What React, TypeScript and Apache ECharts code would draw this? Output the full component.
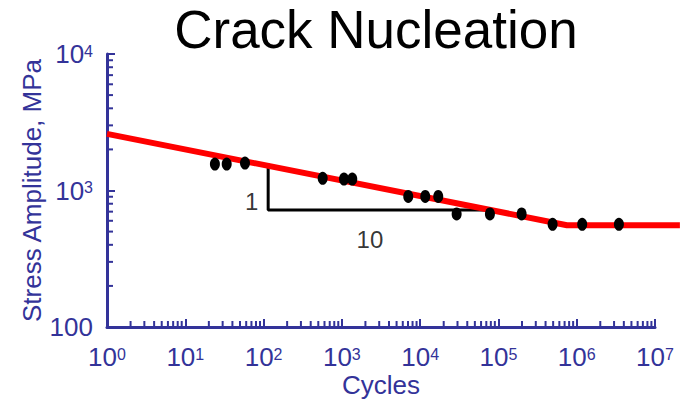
import React, { useEffect, useRef } from "react";
import * as echarts from "echarts";

const BLUE = "#333399";
const FONT = "'Liberation Sans', Arial, Helvetica, sans-serif";

const X_MIN = 1;
const X_MAX = 1e7;
const Y_MIN = 100;
const Y_MAX = 1e4;

// Measured fatigue data: [cycles, stress amplitude MPa]
const cycles = [23.9, 33.8, 57.9, 569, 1064, 1358, 7050, 11620, 17030, 29250, 77900, 197800, 492000, 1175000, 3460000];
const stress = [1563, 1563, 1589, 1228, 1213, 1213, 904, 904, 904, 673, 673, 673, 565, 565, 565];

// Fitted S-N curve (Basquin segment + endurance limit); extends past the axis end
const fitCycles = [1, 750000, 20800000];
const fitStress = [2600, 557, 557];

// Slope triangle
const triCycles = [114.5, 114.5, 77900];
const triStress = [1580, 720, 720];
const triLabels = ["1", "10"];
const triLabelCycles = [70.5, 2285];
const triLabelStress = [828, 434];

const xDecades = [0, 1, 2, 3, 4, 5, 6];
const yDecades = [2, 3];
const minorMult = [2, 3, 4, 5, 6, 7, 8, 9];

// Layout
const GRID_LEFT = 107;
const GRID_RIGHT = 39;
const GRID_TOP = 54;
const GRID_BOTTOM = 74;
const CHART_W = 694;
const LINE_RIGHT = 14; // red fit line runs past the axis end

export default function App() {
  const ref = useRef<HTMLDivElement>(null);

  useEffect(() => {
    if (!ref.current) return;
    const chart = echarts.init(ref.current, null, { renderer: "svg" });

    const xMinor: number[][] = [];
    xDecades.forEach((d) => minorMult.forEach((m) => xMinor.push([m * Math.pow(10, d), Y_MIN])));
    const yMinor: number[][] = [];
    yDecades.forEach((d) => minorMult.forEach((m) => yMinor.push([X_MIN, m * Math.pow(10, d)])));

    // extended invisible x-axis with identical decade width, for the overhanging fit line
    const plotW = CHART_W - GRID_LEFT - GRID_RIGHT;
    const extW = CHART_W - GRID_LEFT - LINE_RIGHT;
    const extMax = Math.pow(10, (Math.log10(X_MAX) - Math.log10(X_MIN)) * (extW / plotW));

    const rich = {
      b: { fontSize: 26, fontFamily: FONT, color: BLUE, lineHeight: 22 },
      sup: { fontSize: 16, fontFamily: FONT, color: BLUE, verticalAlign: "top", lineHeight: 12 },
    };

    const option: any = {
      animation: false,
      backgroundColor: "#ffffff",
      grid: [
        {
          left: GRID_LEFT,
          right: GRID_RIGHT,
          top: GRID_TOP,
          bottom: GRID_BOTTOM,
          containLabel: false,
          outerBoundsMode: "none",
        },
        {
          left: GRID_LEFT,
          right: LINE_RIGHT,
          top: GRID_TOP,
          bottom: GRID_BOTTOM,
          containLabel: false,
          outerBoundsMode: "none",
        },
      ],
      graphic: [
        {
          type: "text",
          x: 376,
          y: 29,
          style: {
            text: "Crack Nucleation",
            fontSize: 53,
            fontFamily: FONT,
            fill: "#000000",
            align: "center",
            verticalAlign: "middle",
          },
        },
      ],
      xAxis: [
        {
          type: "log",
          gridIndex: 0,
          logBase: 10,
          min: X_MIN,
          max: X_MAX,
          name: "Cycles",
          nameLocation: "middle",
          nameGap: 45,
          nameMoveOverlap: false,
          nameTextStyle: { fontSize: 26, fontFamily: FONT, color: BLUE },
          axisLine: { show: true, lineStyle: { color: BLUE, width: 3 } },
          axisTick: { show: true, inside: true, length: 8, lineStyle: { color: BLUE, width: 2 } },
          splitLine: { show: false },
          axisLabel: {
            margin: 19,
            formatter: (v: number) => `{b|10}{sup|${Math.round(Math.log10(v))}}`,
            rich,
          },
          z: 3,
        },
        {
          type: "log",
          gridIndex: 1,
          logBase: 10,
          min: X_MIN,
          max: extMax,
          show: false,
        },
      ],
      yAxis: [
        {
          type: "log",
          gridIndex: 0,
          logBase: 10,
          min: Y_MIN,
          max: Y_MAX,
          name: "Stress Amplitude, MPa",
          nameLocation: "middle",
          nameGap: 62,
          nameMoveOverlap: false,
          nameTextStyle: { fontSize: 26, fontFamily: FONT, color: BLUE },
          axisLine: { show: true, lineStyle: { color: BLUE, width: 3 } },
          axisTick: { show: true, inside: true, length: 8, lineStyle: { color: BLUE, width: 2 } },
          splitLine: { show: false },
          axisLabel: {
            margin: 14,
            formatter: (v: number) => {
              const e = Math.round(Math.log10(v));
              return e === 2 ? "{b|100}" : `{b|10}{sup|${e}}`;
            },
            rich,
          },
          z: 3,
        },
        {
          type: "log",
          gridIndex: 1,
          logBase: 10,
          min: Y_MIN,
          max: Y_MAX,
          show: false,
        },
      ],
      series: [
        {
          type: "custom",
          name: "xMinorTicks",
          silent: true,
          clip: false,
          data: xMinor,
          renderItem: (_p: any, api: any) => {
            const p = api.coord([api.value(0), api.value(1)]);
            return {
              type: "line",
              shape: { x1: p[0], y1: p[1], x2: p[0], y2: p[1] - 6 },
              style: { stroke: BLUE, lineWidth: 2 },
            };
          },
        },
        {
          type: "custom",
          name: "yMinorTicks",
          silent: true,
          clip: false,
          data: yMinor,
          renderItem: (_p: any, api: any) => {
            const p = api.coord([api.value(0), api.value(1)]);
            return {
              type: "line",
              shape: { x1: p[0], y1: p[1], x2: p[0] + 6, y2: p[1] },
              style: { stroke: BLUE, lineWidth: 2 },
            };
          },
        },
        {
          type: "line",
          name: "triangle",
          data: triCycles.map((c, i) => [c, triStress[i]]),
          symbol: "none",
          lineStyle: { color: "#000000", width: 3 },
          clip: false,
          z: 2,
        },
        {
          type: "line",
          name: "fit",
          xAxisIndex: 1,
          yAxisIndex: 1,
          data: fitCycles.map((c, i) => [c, fitStress[i]]),
          symbol: "none",
          lineStyle: { color: "#ff0000", width: 6 },
          clip: false,
          z: 3,
        },
        {
          type: "scatter",
          name: "data",
          data: cycles.map((c, i) => [c, stress[i]]),
          symbol: "circle",
          symbolSize: [10, 13],
          itemStyle: { color: "#000000", opacity: 1 },
          z: 4,
        },
        {
          type: "scatter",
          name: "slopeLabels",
          data: triLabels.map((t, i) => [triLabelCycles[i], triLabelStress[i], t]),
          symbolSize: 0,
          label: {
            show: true,
            position: "inside",
            formatter: (p: any) => p.value[2],
            fontSize: 24,
            fontFamily: FONT,
            color: "#000000",
          },
          z: 5,
        },
      ],
    };

    chart.setOption(option);
    return () => chart.dispose();
  }, []);

  return (
    <div
      ref={ref}
      style={{ position: "fixed", left: 0, top: 0, width: 694, height: 401, background: "#fff" }}
    />
  );
}
